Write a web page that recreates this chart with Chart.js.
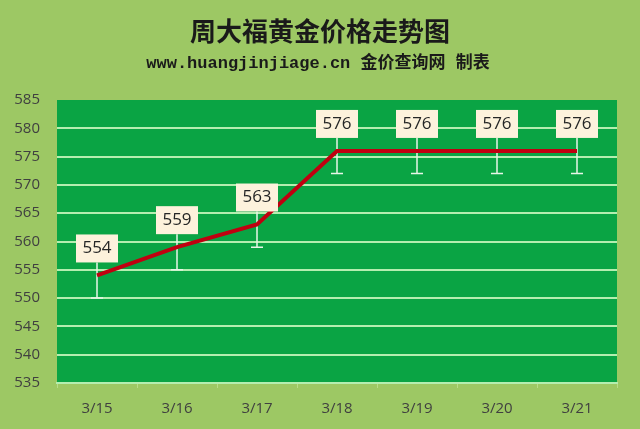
<!DOCTYPE html>
<html>
<head>
<meta charset="utf-8">
<script src="https://cdn.jsdelivr.net/npm/chart.js@4"></script>
<style>
  html, body { margin: 0; padding: 0; background: #9dc864; }
  #wrap { width: 640px; height: 429px; position: relative; }
</style>
</head>
<body>
<div id="wrap"><canvas id="goldChart"></canvas></div>
<script>
const titleText = "周大福黄金价格走势图";
const subtitleText = "www.huangjinjiage.cn 金价查询网 制表";
const labels = ["3/15", "3/16", "3/17", "3/18", "3/19", "3/20", "3/21"];
const prices = [554, 559, 563, 576, 576, 576, 576];
const errorDown = [4, 4, 4, 4, 4, 4, 4];
const yTicks = [535, 540, 545, 550, 555, 560, 565, 570, 575, 580, 585];

// green plot background + header text
const backdrop = {
  id: "backdrop",
  beforeDraw(chart) {
    const c = chart.ctx, a = chart.chartArea;
    c.save();
    c.fillStyle = "#9dc864";
    c.fillRect(0, 0, chart.width, chart.height);
    c.fillStyle = "#0aa444";
    c.fillRect(a.left, a.top, a.right - a.left, a.bottom - a.top);
    c.fillStyle = "#1a1a1a";
    c.textAlign = "center";
    c.textBaseline = "middle";
    c.font = "bold 26px 'Noto Sans CJK SC'";
    c.fillText(titleText, 320, 31);
    c.font = "bold 17px 'Liberation Mono', 'Noto Sans CJK SC'";
    c.fillText(subtitleText, 318, 64);
    c.restore();
  }
};

// white error bars below the points, with the stem up to the label
const errorBars = {
  id: "errorBars",
  beforeDatasetsDraw(chart) {
    const c = chart.ctx;
    const x = chart.scales.x, y = chart.scales.y;
    c.save();
    c.strokeStyle = "#e8f5e8";
    c.lineWidth = 1.5;
    prices.forEach((v, i) => {
      const px = x.getPixelForValue(i);
      const top = y.getPixelForValue(v) - 13;
      const bot = y.getPixelForValue(v - errorDown[i]);
      c.beginPath();
      c.moveTo(px, top);
      c.lineTo(px, bot);
      c.moveTo(px - 6, bot);
      c.lineTo(px + 6, bot);
      c.stroke();
    });
    c.restore();
  },
  afterDatasetsDraw(chart) {
    const c = chart.ctx;
    const x = chart.scales.x, y = chart.scales.y;
    c.save();
    c.font = "17px 'Open Sans'";
    c.textAlign = "center";
    c.textBaseline = "middle";
    prices.forEach((v, i) => {
      const px = x.getPixelForValue(i);
      const py = y.getPixelForValue(v);
      c.fillStyle = "#fdf2dc";
      c.fillRect(px - 21, py - 41, 42, 28);
      c.fillStyle = "#262626";
      c.fillText(String(v), px, py - 27);
    });
    c.restore();
  }
};

const ctx = document.getElementById("goldChart").getContext("2d");
new Chart(ctx, {
  type: "line",
  data: {
    labels: labels,
    datasets: [{
      data: prices,
      borderColor: "#c00010",
      borderWidth: 4,
      pointRadius: 0,
      tension: 0
    }]
  },
  options: {
    responsive: true,
    maintainAspectRatio: false,
    animation: false,
    layout: { padding: { top: 100, right: 23, bottom: 0, left: 0 } },
    plugins: { legend: { display: false }, tooltip: { enabled: false } },
    scales: {
      x: {
        offset: true,
        grid: { offset: true, drawOnChartArea: false, color: "#b9dc8a", tickLength: 5 },
        border: { display: true, color: "#b5eeb0", width: 2 },
        ticks: { color: "#404040", font: { size: 15, family: "'Open Sans'" }, padding: 12 },
        afterFit(scale) { scale.height = 46; }
      },
      y: {
        min: 535,
        max: 585,
        afterBuildTicks(scale) { scale.ticks = yTicks.map(v => ({ value: v })); },
        grid: {
          color: (c) => (c.tick && c.tick.value === 585 ? "rgba(0,0,0,0)" : "#b5eeb0"),
          lineWidth: 2,
          drawTicks: false
        },
        border: { display: false },
        ticks: { color: "#404040", font: { size: 15, family: "'Open Sans'" }, padding: 17 },
        afterFit(scale) { scale.width = 57; }
      }
    }
  },
  plugins: [backdrop, errorBars]
});
</script>
</body>
</html>
